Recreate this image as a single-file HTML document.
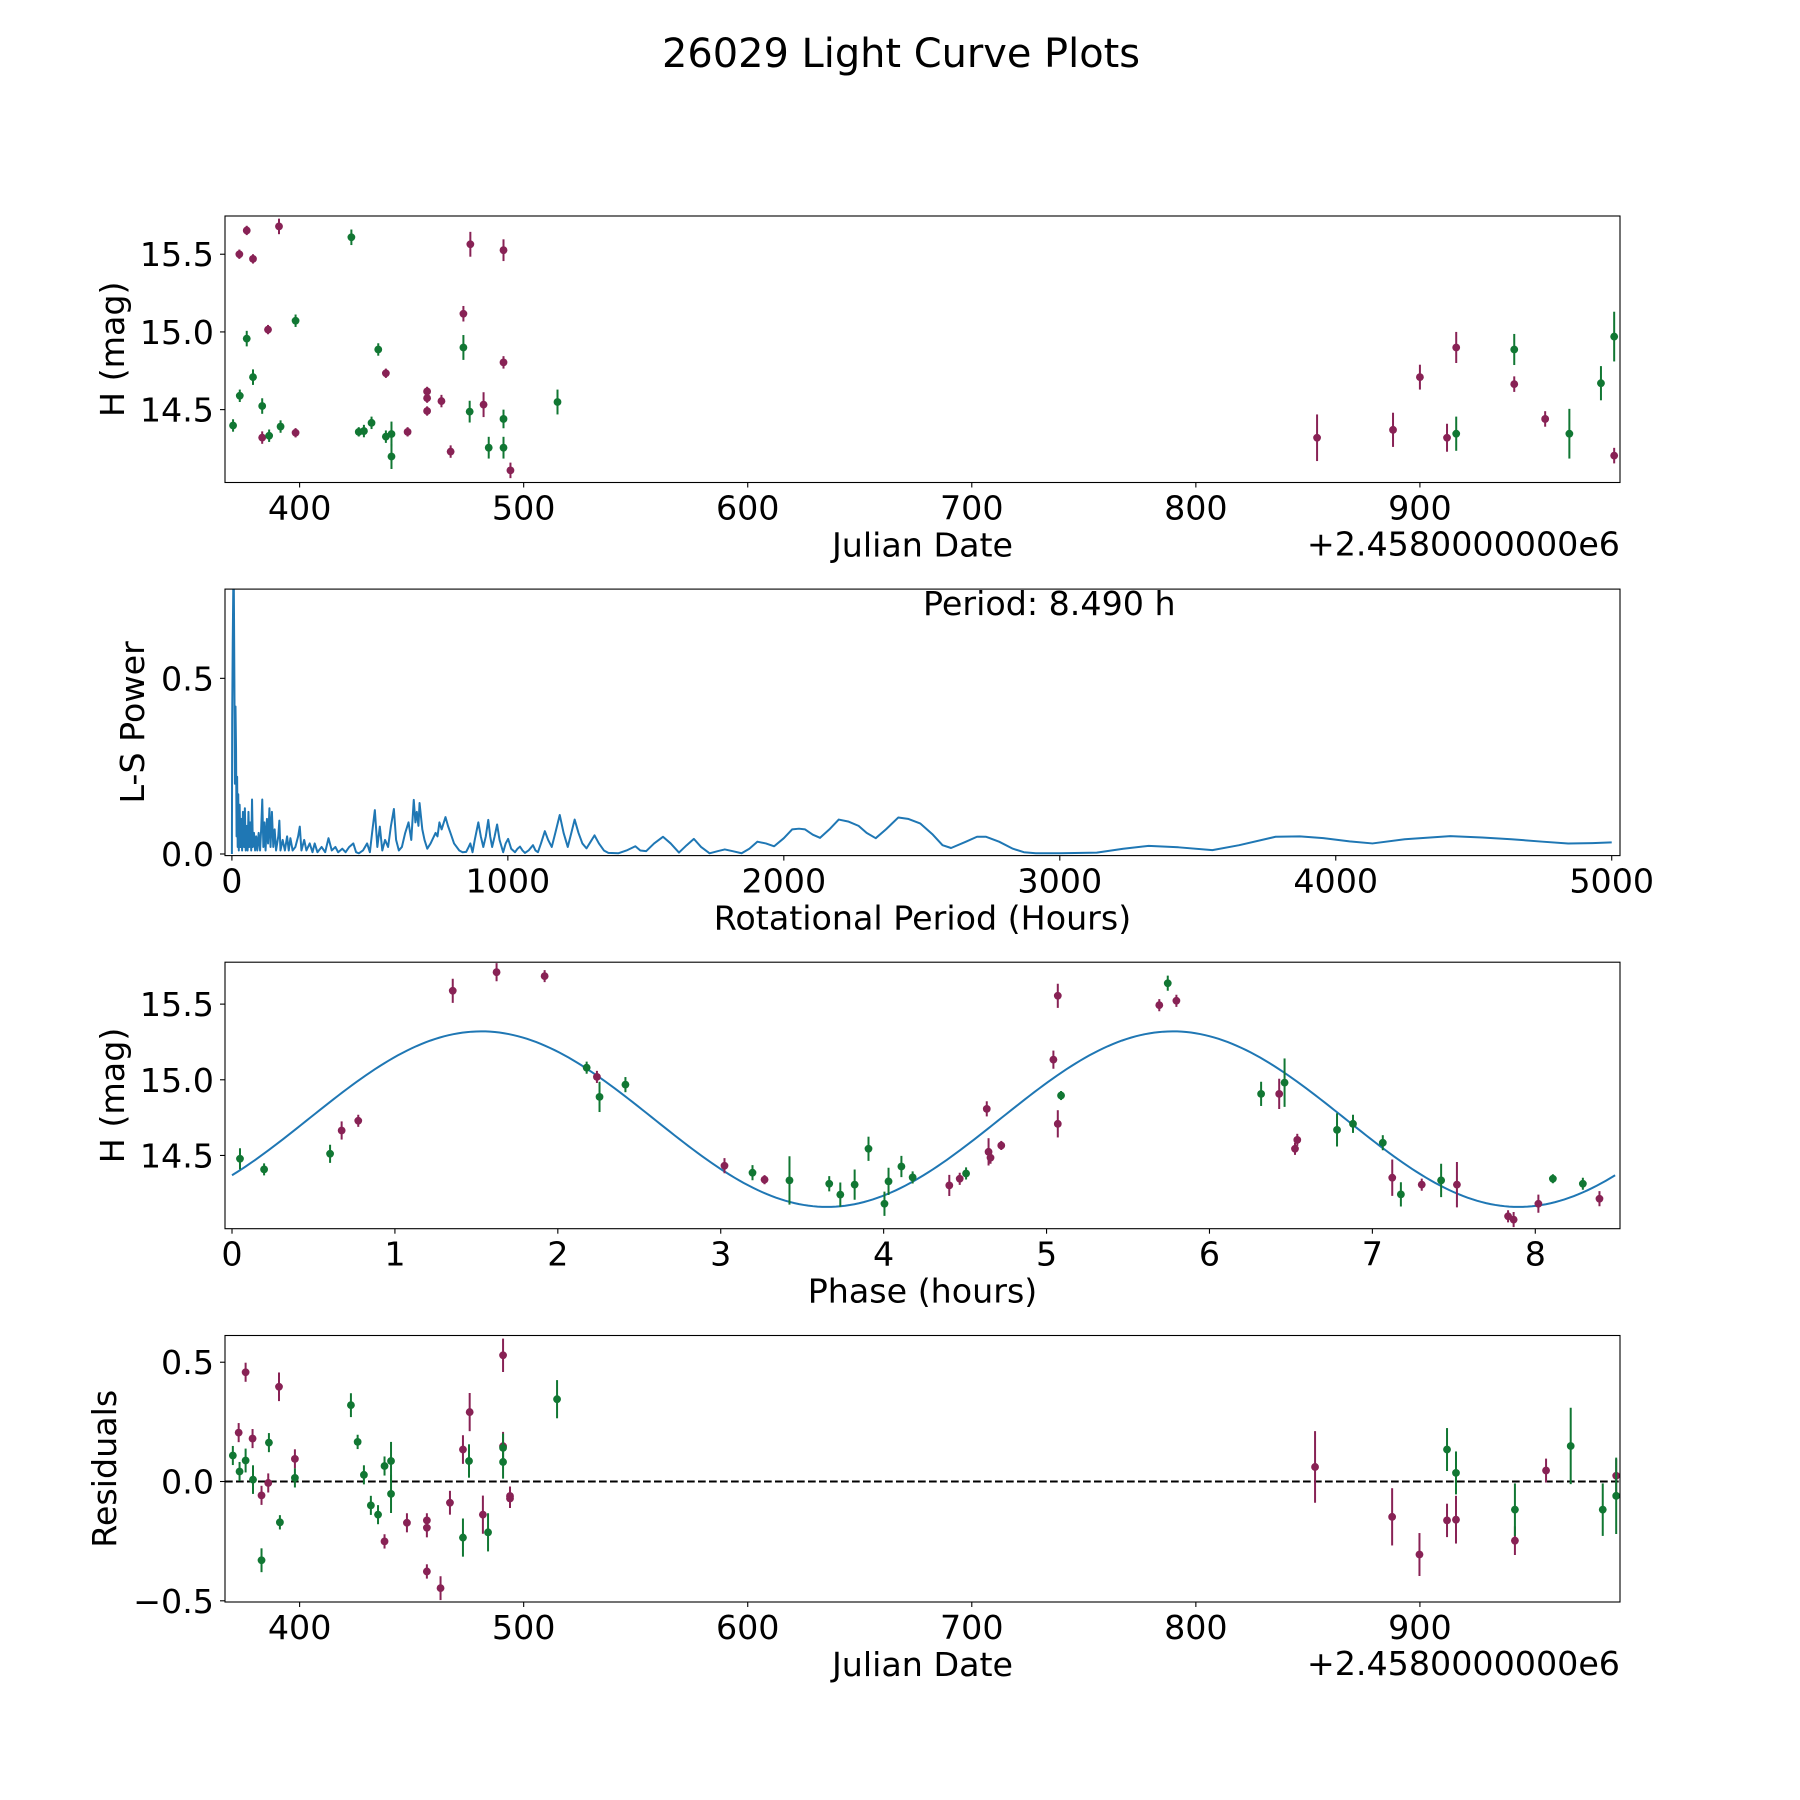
<!DOCTYPE html>
<html><head><meta charset="utf-8"><title>26029 Light Curve Plots</title>
<style>html,body{margin:0;padding:0;background:#fff}svg{display:block}text{font-family:"DejaVu Sans","Liberation Sans",sans-serif;fill:#000}</style>
</head><body>
<svg id="fig" xmlns="http://www.w3.org/2000/svg" width="1800" height="1800" viewBox="0 0 1800 1800">
<rect width="1800" height="1800" fill="#fff"/>
<text x="901" y="67" font-size="40" text-anchor="middle" textLength="478" lengthAdjust="spacingAndGlyphs">26029 Light Curve Plots</text>
</svg>
<script>
// ---- Light curve (JD) data ----
const jdPurple=[376.4,390.8,373.1,379.2,385.9,383.3,398.2,438.5,456.9,456.9,456.9,463.3,448.2,467.4,473.1,476.2,482.1,491.0,491.0,494.1,854.1,888.0,900.0,912.1,916.2,942.1,955.9,986.7];
const magPurple=[15.653,15.679,15.5,15.47,15.015,14.32,14.351,14.734,14.617,14.574,14.491,14.555,14.357,14.23,15.117,15.564,14.532,15.526,14.804,14.109,14.319,14.37,14.709,14.319,14.9,14.664,14.44,14.204];
const errPurple=[0.03,0.05,0.03,0.03,0.03,0.04,0.03,0.03,0.03,0.03,0.03,0.04,0.03,0.04,0.05,0.08,0.08,0.07,0.04,0.05,0.15,0.11,0.08,0.09,0.1,0.05,0.05,0.05];
const jdGreen=[370.3,373.3,376.4,379.2,383.3,386.4,391.5,398.2,423.1,426.4,428.7,432.1,435.1,438.5,441.0,441.0,473.1,475.9,484.4,491.0,491.0,515.1,916.2,942.1,966.7,980.8,986.7];
const magGreen=[14.398,14.589,14.957,14.709,14.523,14.332,14.391,15.072,15.609,14.357,14.362,14.415,14.887,14.326,14.343,14.198,14.9,14.487,14.255,14.255,14.44,14.549,14.345,14.887,14.345,14.67,14.97];
const errGreen=[0.04,0.04,0.05,0.05,0.05,0.04,0.04,0.04,0.05,0.03,0.04,0.04,0.04,0.04,0.08,0.08,0.08,0.07,0.07,0.07,0.06,0.08,0.11,0.10,0.16,0.11,0.16];
const jdTicks=[400,500,600,700,800,900];
const magTicks=[14.5,15.0,15.5];
// ---- Periodogram ----
const lsPeriod=[0,1,3,5,7,9,11,13,15,17,19,21,23,25,28,31,34,37,40,44,47,50,54,57,60,63,66,70,73,76,80,84,88,92,97,102,106,110,114,118,122,127,131,136,140,145,150,155,160,168,172,176,184,192,200,206,212,220,230,240,246,252,262,270,282,292,300,310,325,338,350,362,375,385,400,412,425,440,450,460,475,490,500,508,518,527,536,545,555,566,576,587,595,605,616,628,640,650,659,665,670,676,680,690,698,708,720,738,745,752,760,774,783,792,805,824,836,849,858,864,872,880,893,902,911,920,929,936,943,952,961,970,983,992,1001,1012,1026,1035,1044,1053,1062,1075,1091,1100,1109,1120,1134,1146,1159,1172,1188,1202,1217,1230,1242,1256,1270,1285,1300,1314,1330,1348,1364,1400,1430,1462,1480,1501,1530,1562,1590,1620,1648,1674,1700,1731,1760,1786,1815,1847,1875,1904,1935,1965,2000,2030,2055,2077,2105,2131,2165,2199,2235,2271,2300,2333,2370,2415,2450,2494,2540,2575,2606,2660,2700,2733,2780,2830,2870,2913,3000,3134,3230,3322,3430,3553,3650,3782,3870,3955,4050,4133,4250,4415,4530,4636,4750,4842,4930,5000];
const lsPower=[0.0,0.38,0.6,0.76,0.76,0.5,0.2,0.42,0.3,0.05,0.22,0.02,0.17,0.01,0.14,0.02,0.1,0.01,0.12,0.02,0.13,0.01,0.08,0.01,0.12,0.02,0.09,0.01,0.155,0.02,0.06,0.01,0.05,0.01,0.06,0.01,0.07,0.155,0.02,0.09,0.01,0.1,0.03,0.13,0.02,0.12,0.02,0.07,0.01,0.05,0.095,0.01,0.04,0.01,0.05,0.01,0.045,0.01,0.02,0.05,0.078,0.01,0.04,0.01,0.03,0.005,0.03,0.005,0.02,0.005,0.045,0.01,0.02,0.005,0.015,0.005,0.02,0.03,0.005,0.002,0.01,0.03,0.005,0.06,0.125,0.02,0.078,0.01,0.04,0.02,0.078,0.128,0.04,0.01,0.02,0.06,0.09,0.04,0.154,0.09,0.12,0.08,0.145,0.07,0.04,0.015,0.03,0.06,0.05,0.09,0.07,0.105,0.08,0.06,0.03,0.01,0.005,0.006,0.02,0.03,0.005,0.04,0.09,0.05,0.02,0.05,0.097,0.05,0.02,0.05,0.084,0.04,0.005,0.03,0.043,0.015,0.005,0.015,0.021,0.01,0.003,0.01,0.025,0.01,0.005,0.03,0.065,0.04,0.02,0.06,0.111,0.06,0.02,0.06,0.098,0.06,0.03,0.016,0.035,0.053,0.03,0.01,0.003,0.002,0.01,0.022,0.01,0.008,0.03,0.049,0.03,0.004,0.025,0.043,0.02,0.002,0.008,0.013,0.008,0.002,0.015,0.035,0.03,0.022,0.045,0.07,0.072,0.07,0.055,0.046,0.07,0.098,0.092,0.08,0.06,0.045,0.07,0.104,0.1,0.087,0.055,0.025,0.017,0.035,0.049,0.049,0.035,0.015,0.005,0.002,0.002,0.004,0.015,0.023,0.019,0.011,0.025,0.049,0.05,0.045,0.036,0.030,0.042,0.051,0.047,0.042,0.035,0.030,0.031,0.033];
const lsXTicks=[0,1000,2000,3000,4000,5000];
const lsYTicks=[0.0,0.5];
// ---- Phase-folded ----
const phPurple=[0.673,0.775,1.355,1.624,1.919,2.24,3.023,3.269,4.403,4.467,4.633,4.644,4.656,4.722,5.042,5.069,5.069,5.692,5.797,6.428,6.525,6.539,7.122,7.303,7.519,7.833,7.867,8.019,8.394];
const phMagPurple=[14.665,14.729,15.588,15.711,15.685,15.019,14.432,14.34,14.302,14.346,14.808,14.524,14.485,14.566,15.133,15.555,14.709,15.493,15.522,14.907,14.544,14.603,14.353,14.307,14.307,14.098,14.076,14.181,14.214];
const phErrPurple=[0.06,0.04,0.08,0.06,0.04,0.04,0.05,0.03,0.07,0.04,0.05,0.09,0.04,0.03,0.06,0.08,0.09,0.04,0.04,0.1,0.04,0.04,0.12,0.04,0.15,0.04,0.05,0.06,0.05];
const phGreen=[0.049,0.197,0.602,2.177,2.256,2.415,3.195,3.422,3.666,3.734,3.822,3.907,4.005,4.030,4.109,4.178,4.506,5.089,5.744,6.317,6.461,6.783,6.881,7.064,7.175,7.422,8.108,8.292];
const phMagGreen=[14.478,14.408,14.511,15.08,14.887,14.968,14.386,14.335,14.313,14.241,14.307,14.544,14.181,14.329,14.427,14.355,14.381,14.896,15.638,14.907,14.981,14.669,14.709,14.584,14.243,14.335,14.346,14.313];
const phErrGreen=[0.07,0.04,0.06,0.04,0.1,0.05,0.05,0.16,0.05,0.08,0.1,0.08,0.08,0.09,0.07,0.04,0.04,0.03,0.05,0.08,0.16,0.11,0.06,0.05,0.08,0.11,0.03,0.04];
const fitMean=[14.74], fitAmp=[0.58], fitPeak=[1.53], fitHalfPeriod=[4.245], rotPeriod=[8.49];
const phXTicks=[0,1,2,3,4,5,6,7,8];
// ---- Residuals ----
const resJdPurple=[372.8,375.9,379.0,383.0,386.0,390.8,397.9,437.9,447.9,456.8,456.8,456.8,462.9,467.1,472.9,475.9,481.8,490.8,490.8,493.9,493.9,853.2,887.6,899.8,912.1,916.1,942.4,956.3,987.6];
const resPurple=[0.205,0.458,0.18,-0.058,-0.006,0.397,0.095,-0.251,-0.173,-0.163,-0.194,-0.377,-0.447,-0.089,0.134,0.291,-0.139,0.529,0.148,-0.061,-0.071,0.061,-0.148,-0.306,-0.163,-0.16,-0.248,0.046,0.024];
const resErrPurple=[0.04,0.04,0.04,0.04,0.04,0.06,0.04,0.03,0.04,0.03,0.04,0.03,0.05,0.05,0.06,0.08,0.08,0.07,0.06,0.04,0.04,0.15,0.12,0.09,0.07,0.1,0.06,0.05,0.07];
const resJdGreen=[370.2,373.2,375.9,379.2,383.0,386.3,391.2,397.9,422.9,425.9,428.7,431.8,435.0,437.9,440.8,440.8,472.9,475.6,484.1,490.8,490.8,514.9,912.1,916.1,942.4,967.3,981.6,987.6];
const resGreen=[0.109,0.042,0.088,0.008,-0.33,0.163,-0.171,0.015,0.32,0.166,0.028,-0.1,-0.139,0.065,0.086,-0.052,-0.235,0.086,-0.213,0.141,0.082,0.345,0.134,0.036,-0.118,0.149,-0.118,-0.06];
const resErrGreen=[0.04,0.04,0.05,0.06,0.05,0.04,0.03,0.04,0.05,0.03,0.04,0.04,0.04,0.04,0.08,0.08,0.08,0.07,0.08,0.06,0.07,0.08,0.09,0.09,0.11,0.16,0.11,0.16];
const resYTicks=[-0.5,0.0,0.5];

const NS='http://www.w3.org/2000/svg';
const svg=document.getElementById('fig');
const PURPLE='#882255', GREEN='#117733', BLUE='#1f77b4';
const L=225, R=1620, H=266.5, FS=33.3;
function mk(tag,attrs,parent){const e=document.createElementNS(NS,tag);for(const k in attrs)e.setAttribute(k,attrs[k]);(parent||svg).appendChild(e);return e;}
function fmt(v,d){const s=v.toFixed(d);return v<0?'\u2212'+s.slice(1):s;}
function makeAxes(name,top,xlim,ylim){
  const g=mk('g',{});
  
  
  const sx=v=>L+(v-xlim[0])/(xlim[1]-xlim[0])*(R-L);
  const sy=v=>top+H-(v-ylim[0])/(ylim[1]-ylim[0])*H;
  const cid='clip-'+name;
  const cp=mk('clipPath',{id:cid},g);mk('rect',{x:L,y:top,width:R-L,height:H},cp);
  const plot=mk('g',{'clip-path':'url(#'+cid+')'},g);
  return {g,plot,sx,sy,top,xlim,ylim};
}
function frame(ax,xt,xd,yt,yd,xlabel,ylabel,ylabelX,offsetText){
  const g=ax.g;
  const fr=mk('rect',{x:L,y:ax.top,width:R-L,height:H,fill:'none',stroke:'#000','stroke-width':1.1},g);
  
  
  const yb=ax.top+H;
  xt.forEach(v=>{
    const x=ax.sx(v);
    mk('line',{x1:x,y1:yb,x2:x,y2:yb+5,stroke:'#000','stroke-width':1.1},g);
    const t=mk('text',{x:x,y:yb+37,'font-size':FS,'text-anchor':'middle'},g);
    
    
    t.textContent=fmt(v,xd);
  });
  yt.forEach(v=>{
    const y=ax.sy(v);
    mk('line',{x1:L-5,y1:y,x2:L,y2:y,stroke:'#000','stroke-width':1.1},g);
    const t=mk('text',{x:L-11,y:y+12,'font-size':FS,'text-anchor':'end'},g);
    
    
    t.textContent=fmt(v,yd);
  });
  const xl=mk('text',{x:(L+R)/2,y:yb+74,'font-size':FS,'text-anchor':'middle'},g);
  
  
  xl.textContent=xlabel;
  const cy=ax.top+H/2;
  const yl=mk('text',{x:ylabelX,y:cy,'font-size':FS,'text-anchor':'middle',transform:'rotate(-90 '+ylabelX+' '+cy+')'},g);
  
  
  yl.textContent=ylabel;
  if(offsetText){
    const o=mk('text',{x:R,y:yb+73,'font-size':FS,'text-anchor':'end'},g);
    
    
    o.textContent=offsetText;
  }
}
function errSeries(ax,xs,ys,es,color,name){
  const g=mk('g',{},ax.plot);
  
  
  xs.forEach((xv,i)=>{
    const x=ax.sx(xv);
    const b=mk('line',{x1:x,y1:ax.sy(ys[i]-es[i]),x2:x,y2:ax.sy(ys[i]+es[i]),stroke:color,'stroke-width':2},g);
    
    
    const c=mk('circle',{cx:x,cy:ax.sy(ys[i]),r:3.9,fill:color},g);
    
    
  });
}
const tops=[216,589.1,962.2,1335.5];
// Panel 1
const a1=makeAxes('light-curve-panel',tops[0],[366.7,989.3],[14.031,15.746]);
errSeries(a1,jdPurple,magPurple,errPurple,PURPLE,'series-purple');
errSeries(a1,jdGreen,magGreen,errGreen,GREEN,'series-green');
frame(a1,jdTicks,0,magTicks,1,'Julian Date','H (mag)',124,'+2.4580000000e6');
// Panel 2
const a2=makeAxes('periodogram-panel',tops[1],[-25,5030],[-0.0046,0.754]);
let d='';lsPeriod.forEach((p,i)=>{d+=(i?'L':'M')+a2.sx(p).toFixed(2)+' '+a2.sy(lsPower[i]).toFixed(2);});
const ls=mk('path',{d:d,fill:'none',stroke:BLUE,'stroke-width':2,'stroke-linejoin':'round'},a2.plot);


frame(a2,lsXTicks,0,lsYTicks,1,'Rotational Period (Hours)','L-S Power',144,null);
const pt=mk('text',{x:923,y:615,'font-size':FS},a2.g);


pt.textContent='Period: '+rotPeriod[0].toFixed(3)+' h';
// Panel 3
const a3=makeAxes('phase-panel',tops[2],[-0.043,8.52],[14.016,15.777]);
let fd='';for(let i=0;i<=300;i++){const p=rotPeriod[0]*i/300;const m=fitMean[0]+fitAmp[0]*Math.cos(2*Math.PI*(p-fitPeak[0])/fitHalfPeriod[0]);fd+=(i?'L':'M')+a3.sx(p).toFixed(2)+' '+a3.sy(m).toFixed(2);}
const fit=mk('path',{d:fd,fill:'none',stroke:BLUE,'stroke-width':2},a3.plot);


errSeries(a3,phPurple,phMagPurple,phErrPurple,PURPLE,'phase-series-purple');
errSeries(a3,phGreen,phMagGreen,phErrGreen,GREEN,'phase-series-green');
frame(a3,phXTicks,0,magTicks,1,'Phase (hours)','H (mag)',124,null);
// Panel 4
const a4=makeAxes('residuals-panel',tops[3],[366.7,989.3],[-0.505,0.612]);
const zl=mk('line',{x1:L,x2:R,y1:a4.sy(0),y2:a4.sy(0),stroke:'#000','stroke-width':2,'stroke-dasharray':'7.7 3.3'},a4.plot);


errSeries(a4,resJdPurple,resPurple,resErrPurple,PURPLE,'residual-series-purple');
errSeries(a4,resJdGreen,resGreen,resErrGreen,GREEN,'residual-series-green');
frame(a4,jdTicks,0,resYTicks,1,'Julian Date','Residuals',116,'+2.4580000000e6');
</script>
</body></html>
